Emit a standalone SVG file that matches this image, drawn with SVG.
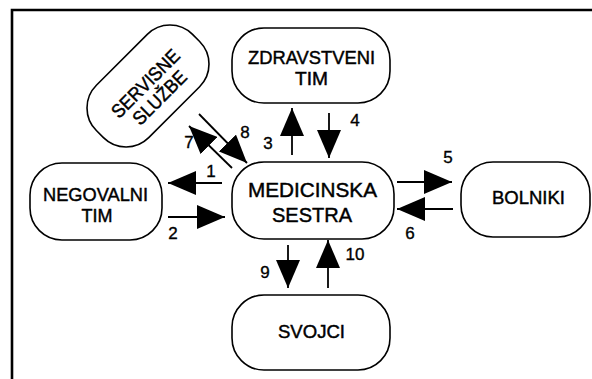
<svg xmlns="http://www.w3.org/2000/svg" width="592" height="379" viewBox="0 0 592 379">
<style>
.node{fill:#fff;stroke:#000;stroke-width:1.6}
.t{font-family:"Liberation Sans",Arial,sans-serif;font-size:19px;fill:#000;stroke:#000;stroke-width:0.45;text-anchor:middle}
.big{font-size:21px}
.lbl{font-family:"Liberation Sans",Arial,sans-serif;font-size:17px;fill:#000;stroke:#000;stroke-width:0.35;text-anchor:middle}
.arr{stroke:#000;stroke-width:1.8;fill:none;marker-end:url(#ah)}
</style>
<defs>
<marker id="ah" markerUnits="userSpaceOnUse" markerWidth="28" markerHeight="24" refX="28" refY="12" orient="auto">
<path d="M0,0 L28,12 L0,24 Z" fill="#000"/>
</marker>
</defs>
<rect width="592" height="379" fill="#fff"/>
<path d="M12,379 V10 H592" fill="none" stroke="#000" stroke-width="2.6"/>
<g id="medicinska-sestra">
<rect class="node" x="232" y="162" width="162" height="77" rx="32"/>
<text class="t big" x="312.5" y="197" textLength="129" lengthAdjust="spacingAndGlyphs">MEDICINSKA</text>
<text class="t big" x="312" y="222" textLength="80" lengthAdjust="spacingAndGlyphs">SESTRA</text>
</g>
<g id="zdravstveni-tim">
<rect class="node" x="232" y="28" width="158" height="75" rx="32"/>
<text class="t" x="311.5" y="64" textLength="127" lengthAdjust="spacingAndGlyphs">ZDRAVSTVENI</text>
<text class="t" x="311.5" y="85" textLength="33" lengthAdjust="spacingAndGlyphs">TIM</text>
</g>
<g id="negovalni-tim">
<rect class="node" x="30" y="163" width="132" height="77" rx="32"/>
<text class="t" x="95.5" y="201" textLength="105" lengthAdjust="spacingAndGlyphs">NEGOVALNI</text>
<text class="t" x="97" y="222" textLength="31" lengthAdjust="spacingAndGlyphs">TIM</text>
</g>
<g id="bolniki">
<rect class="node" x="461" y="162" width="129" height="75" rx="32"/>
<text class="t" x="528.5" y="204" textLength="73" lengthAdjust="spacingAndGlyphs">BOLNIKI</text>
</g>
<g id="svojci">
<rect class="node" x="232" y="295" width="158" height="75" rx="32"/>
<text class="t" x="311.5" y="338" textLength="67" lengthAdjust="spacingAndGlyphs">SVOJCI</text>
</g>
<g id="servisne-sluzbe" transform="translate(148,86) rotate(-45)">
<rect class="node" x="-68" y="-37" width="136" height="74" rx="32"/>
<text class="t" x="0" y="3" textLength="88" lengthAdjust="spacingAndGlyphs">SERVISNE</text>
<text class="t" x="0" y="23" textLength="68" lengthAdjust="spacingAndGlyphs">SLUŽBE</text>
</g>
<g id="connectors">
<line class="arr" x1="222" y1="183" x2="168" y2="183"/>
<line class="arr" x1="168" y1="217" x2="225" y2="217"/>
<line class="arr" x1="292" y1="155" x2="292" y2="108"/>
<line class="arr" x1="329" y1="113" x2="329" y2="158"/>
<line class="arr" x1="397" y1="182" x2="452" y2="182"/>
<line class="arr" x1="453" y1="209" x2="397" y2="209"/>
<line class="arr" x1="288" y1="245" x2="288" y2="288"/>
<line class="arr" x1="328" y1="288" x2="328" y2="240"/>
<line class="arr" x1="232" y1="168" x2="189" y2="126"/>
<line class="arr" x1="199" y1="114" x2="247" y2="163"/>
<text class="lbl" x="211" y="177">1</text>
<text class="lbl" x="173" y="239">2</text>
<text class="lbl" x="268" y="149">3</text>
<text class="lbl" x="355" y="126">4</text>
<text class="lbl" x="448" y="163">5</text>
<text class="lbl" x="410" y="239">6</text>
<text class="lbl" x="189" y="148">7</text>
<text class="lbl" x="245" y="138">8</text>
<text class="lbl" x="265" y="278">9</text>
<text class="lbl" x="355" y="260">10</text>
</g>
</svg>
